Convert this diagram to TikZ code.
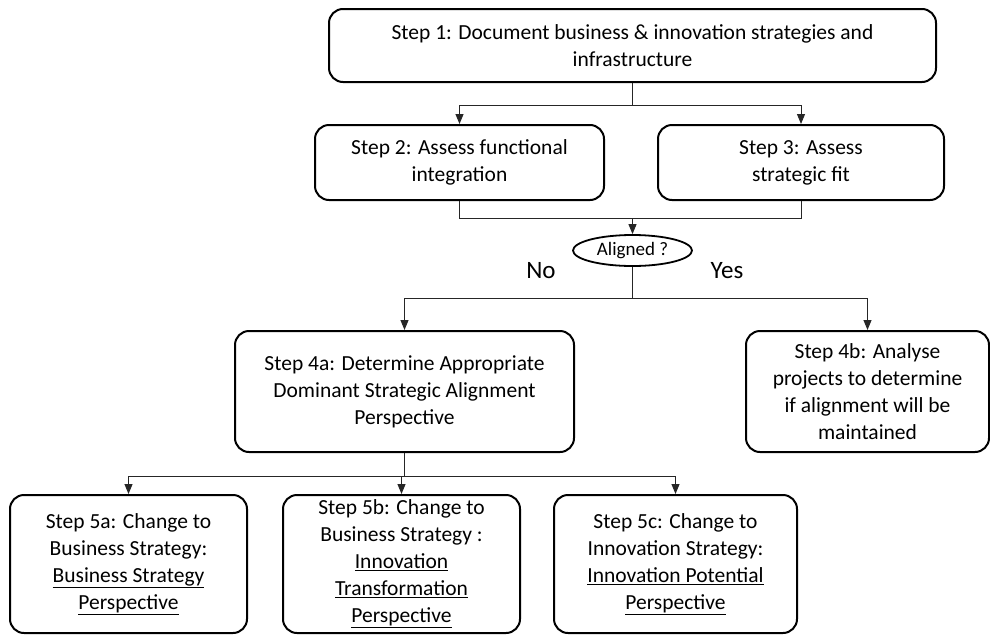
\documentclass[tikz,border=0pt]{standalone}
\usepackage{fontspec}
\setmainfont{Carlito}
\usetikzlibrary{arrows.meta}
\usetikzlibrary{shapes.geometric}
\usetikzlibrary{positioning}

\tikzset{
  stepbox/.style={draw, line width=2pt, rounded corners=14pt, align=center,
    font=\fontsize{21.5}{27}\selectfont, inner sep=0pt},
  decision/.style={draw, ellipse, line width=1.8pt, inner sep=0pt,
    font=\fontsize{19}{22}\selectfont},
  answer/.style={font=\fontsize{25}{28}\selectfont},
  conn/.style={line width=1pt, draw=black!85},
  arr/.style={conn, -{Triangle[length=10pt,width=8pt]}}
}

\begin{document}
\begin{tikzpicture}[x=1pt,y=-1pt]
  \useasboundingbox (0,0) rectangle (990,635);

  \node[stepbox, minimum width=607pt, minimum height=73pt] (s1) at (632.5,45.5)
    {Step 1: Document business \& innovation strategies and\\infrastructure};
  \node[stepbox, minimum width=289pt, minimum height=75pt] (s2) at (459.5,162.5)
    {Step 2: Assess functional\\integration};
  \node[stepbox, minimum width=286pt, minimum height=75pt] (s3) at (801,162.5)
    {Step 3: Assess\\strategic fit};
  \node[decision, minimum width=119pt, minimum height=31pt] (dec) at (632.5,250.5)
    {Aligned ?};
  \node[answer] (no) at (541,271) {No};
  \node[answer] (yes) at (727,271) {Yes};
  \node[stepbox, minimum width=339pt, minimum height=121pt] (s4a) at (404.5,391.5)
    {Step 4a: Determine Appropriate\\Dominant Strategic Alignment\\Perspective};
  \node[stepbox, minimum width=243pt, minimum height=121pt] (s4b) at (867.5,391.5)
    {Step 4b: Analyse\\projects to determine\\if alignment will be\\maintained};
  \node[stepbox, minimum width=237pt, minimum height=138pt] (s5a) at (128.5,564)
    {Step 5a: Change to\\Business Strategy:\\\underline{Business Strategy}\\\underline{Perspective}};
  \node[stepbox, minimum width=237pt, minimum height=138pt] (s5b) at (401.5,564)
    {Step 5b: Change to\\Business Strategy :\\\underline{Innovation}\\\underline{Transformation}\\\underline{Perspective}};
  \node[stepbox, minimum width=243pt, minimum height=138pt] (s5c) at (675.5,564)
    {Step 5c: Change to\\Innovation Strategy:\\\underline{Innovation Potential}\\\underline{Perspective}};

  % step 1 to steps 2 and 3
  \draw[conn] (s1.south) -- ++(0,22) coordinate (b1);
  \draw[arr] (b1) -| (s2.north);
  \draw[arr] (b1) -| (s3.north);

  % merge into the decision
  \coordinate (m1) at (632.5,218);
  \draw[conn] (s2.south) |- (m1);
  \draw[conn] (s3.south) |- (m1);
  \draw[arr] (m1) -- (dec.north);

  % no / yes
  \draw[conn] (dec.south) -- ++(0,32) coordinate (b2);
  \draw[arr] (b2) -| (s4a.north);
  \draw[arr] (b2) -| (s4b.north);

  % step 4a to steps 5
  \draw[conn] (s4a.south) -- ++(0,23) coordinate (b3);
  \draw[arr] (b3) -| (s5a.north);
  \draw[arr] (b3) -| (s5b.north);
  \draw[arr] (b3) -| (s5c.north);
\end{tikzpicture}
\end{document}
